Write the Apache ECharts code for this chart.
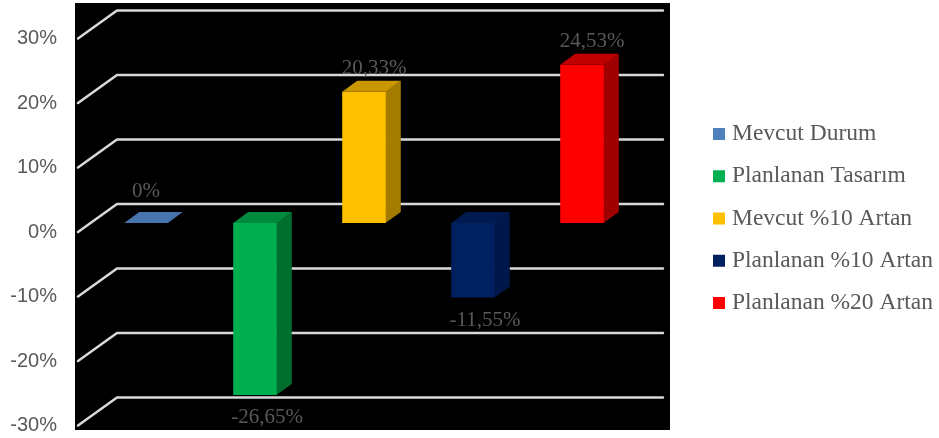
<!DOCTYPE html>
<html>
<head>
<meta charset="utf-8">
<script src="https://cdn.jsdelivr.net/npm/echarts@6/dist/echarts.min.js"></script>
<style>
html,body{margin:0;padding:0;background:#fff;}
#chart{width:939px;height:438px;}
</style>
</head>
<body>
<div id="chart"></div>
<script>
const categories = ['Mevcut Durum', 'Planlanan Tasarım', 'Mevcut %10 Artan', 'Planlanan %10 Artan', 'Planlanan %20 Artan'];
const values = [0, -26.65, 20.33, -11.55, 24.53];
const yTicks = [-30, -20, -10, 0, 10, 20, 30];
const yTickLabels = ['-30%', '-20%', '-10%', '0%', '10%', '20%', '30%'];

const frontColors = ['#4f81bd', '#00b050', '#ffc000', '#002060', '#ff0000'];
const topColors = ['#4874ad', '#008a3e', '#c89700', '#001a50', '#c00000'];
const sideColors = ['#3a5f8e', '#006f2e', '#a37c00', '#00174a', '#a00000'];

const DX = 15, DY = -11;

function fmt(v) {
  if (v === 0) return '0%';
  return v.toFixed(2).replace('.', ',') + '%';
}

const chart = echarts.init(document.getElementById('chart'), null, {renderer: 'canvas'});

const barSeries = categories.map((name, i) => ({
  name: name,
  type: 'custom',
  zlevel: 2,
  z: 5,
  itemStyle: {color: frontColors[i]},
  data: [[categories[i], values[i]]],
  renderItem: function (params, api) {
    const idx = api.value(0);
    const v = api.value(1);
    const p0 = api.coord([idx, 0]);
    const pv = api.coord([idx, v]);
    const w = api.size([1, 0])[0] * 0.4;
    const x1 = p0[0] - w / 2, x2 = p0[0] + w / 2;
    const top = Math.min(p0[1], pv[1]);
    const bot = Math.max(p0[1], pv[1]);
    const children = [];
    children.push({type: 'polygon', z2: 10, shape: {points: [[x2 - 0.5, top], [x2 + DX, top + DY], [x2 + DX, bot + DY], [x2 - 0.5, bot]]}, style: {fill: sideColors[i]}});
    if (bot - top > 0) {
      children.push({type: 'rect', z2: 11, shape: {x: x1, y: top, width: w, height: bot - top}, style: {fill: frontColors[i]}});
    }
    children.push({type: 'polygon', z2: 12, shape: {points: [[x1, top], [x2, top], [x2 + DX, top + DY], [x1 + DX, top + DY]]}, style: {fill: topColors[i]}});
    let lx, ly;
    if (v > 0) { lx = p0[0] + 10; ly = top + DY - 12; }
    else if (v < 0) { lx = p0[0] + 12; ly = bot + 23; }
    else { lx = p0[0]; ly = top + DY - 21; }
    children.push({type: 'text', z2: 13, style: {text: fmt(v), x: lx, y: ly, align: 'center', verticalAlign: 'middle', fill: '#595959', fontSize: 21, fontFamily: 'Liberation Serif'}});
    return {type: 'group', children: children};
  }
}));

const gridSeries = {
  type: 'custom',
  zlevel: 1,
  z: 1,
  silent: true,
  data: yTicks.map((t, i) => [categories[0], t, i]),
  renderItem: function (params, api) {
    const cs = params.coordSys;
    const y = api.coord([0, api.value(1)])[1];
    const i = api.value(2);
    return {
      type: 'group',
      children: [
        {type: 'polyline', shape: {points: [[cs.x - 13.5, y + 9], [cs.x + 25.5, y - 19], [cs.x + cs.width + 26.5, y - 19]]},
          style: {stroke: '#d9d9d9', lineWidth: 2.5, fill: null, lineJoin: 'round', lineCap: 'round'}},
        {type: 'text', style: {text: yTickLabels[i], x: cs.x - 34.5, y: y + 9, align: 'right', verticalAlign: 'middle', fill: '#595959', fontSize: 20, fontFamily: 'Liberation Sans'}}
      ]
    };
  }
};

chart.setOption({
  animation: false,
  backgroundColor: '#fff',
  graphic: {
    elements: [{type: 'rect', z: -100, silent: true, shape: {x: 75, y: 3, width: 595, height: 427}, style: {fill: '#000'}}]
  },
  grid: {left: 91.5, top: 29.5, width: 545, height: 387, containLabel: false},
  xAxis: {type: 'category', data: categories, show: false},
  yAxis: {type: 'value', min: -30, max: 30, interval: 10, show: false},
  legend: {
    orient: 'vertical',
    left: 713,
    top: 122,
    padding: 0,
    icon: 'rect',
    itemWidth: 12,
    itemHeight: 12,
    itemGap: 18.25,
    data: categories,
    textStyle: {color: '#595959', fontSize: 23.5, fontFamily: 'Liberation Serif', lineHeight: 24, padding: [0, 0, 0, 2]}
  },
  series: [gridSeries].concat(barSeries)
});
</script>
</body>
</html>
